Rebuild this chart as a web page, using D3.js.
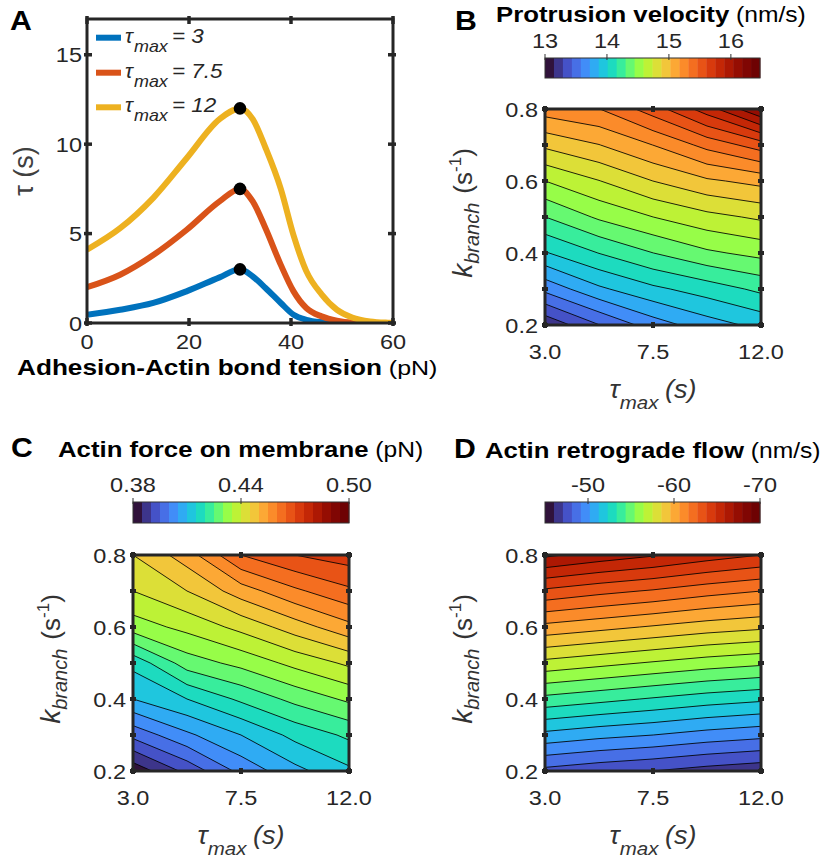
<!DOCTYPE html>
<html>
<head>
<meta charset="utf-8">
<script src="https://cdn.jsdelivr.net/npm/d3@7"></script>
<style>
html,body{margin:0;padding:0;background:#fff;}
svg text{font-family:"Liberation Sans",Arial,Helvetica,sans-serif;}
</style>
</head>
<body>
<svg id="fig" width="822" height="861"></svg>
<script>
// ================= DATA =================
// Panel A: lifetime tau vs adhesion-actin bond tension
const tension     = [0, 6.5, 13, 19.5, 26, 30, 32.5, 35, 38, 40.5, 43, 46, 49, 52, 55.5, 59, 60];
const tauCurve3   = [0.46, 0.74, 1.12, 1.77, 2.55, 3.0, 2.6, 1.96, 1.12, 0.46, 0.18, 0.05, 0.01, 0, 0, 0, 0];
const tauCurve7_5 = [2.0, 2.7, 3.8, 5.2, 6.8, 7.5, 6.8, 5.3, 3.25, 1.77, 0.84, 0.37, 0.13, 0.03, 0.01, 0, 0];
const tauCurve12  = [4.1, 5.3, 7.0, 9.2, 11.4, 12.0, 11.4, 9.8, 7.5, 4.9, 2.9, 1.6, 0.74, 0.31, 0.09, 0.02, 0.01];
const tauMaxValues = [3, 7.5, 12];
const tauMaxLegend = ["3", "7.5", "12"];
const peakTension = 30;
const tensionTicks = [0, 20, 40, 60];
const tauTicks = [0, 5, 10, 15];

// Panels B-D: grids over tau_max (columns) x k_branch (rows)
const tauMaxGrid  = [3, 5.25, 7.5, 9.75, 12];
const kBranchGrid = [0.2, 0.3, 0.4, 0.5, 0.6, 0.7, 0.8];
const tauMaxTicks = [3, 7.5, 12];
const tauMaxTickLabels = ["3.0", "7.5", "12.0"];
const kBranchTicks = [0.2, 0.3, 0.4, 0.5, 0.6, 0.7, 0.8];
const kBranchLabelled = [0.2, 0.4, 0.6, 0.8];

const protrusionVelocity = [ // nm/s
  [13.17, 13.43, 13.65, 13.80, 13.91],
  [13.62, 13.84, 13.98, 14.08, 14.19],
  [14.00, 14.16, 14.30, 14.42, 14.49],
  [14.30, 14.47, 14.59, 14.69, 14.76],
  [14.59, 14.73, 14.88, 15.00, 15.07],
  [14.91, 15.02, 15.17, 15.36, 15.53],
  [15.24, 15.31, 15.53, 15.82, 16.18]
];
const actinForce = [ // pN
  [0.3815, 0.3915, 0.4015, 0.4085, 0.4140],
  [0.3965, 0.4040, 0.4100, 0.4165, 0.4210],
  [0.4100, 0.4150, 0.4210, 0.4265, 0.4310],
  [0.4165, 0.4275, 0.4315, 0.4365, 0.4410],
  [0.4325, 0.4365, 0.4415, 0.4475, 0.4535],
  [0.4400, 0.4450, 0.4525, 0.4590, 0.4640],
  [0.4450, 0.4525, 0.4650, 0.4700, 0.4725]
];
const retrogradeFlow = [ // nm/s
  [-47.81, -47.40, -47.08, -46.67, -46.35],
  [-50.94, -50.52, -50.21, -49.79, -49.48],
  [-54.06, -53.65, -53.23, -52.81, -52.50],
  [-57.19, -56.77, -56.35, -55.94, -55.63],
  [-60.31, -59.90, -59.48, -59.06, -58.75],
  [-63.54, -63.02, -62.60, -62.08, -61.67],
  [-67.08, -66.46, -65.94, -65.31, -64.79]
];
const velocityRange = [13, 16.47];
const velocityTicks = [13, 14, 15, 16];
const velocityTickLabels = ["13", "14", "15", "16"];
const forceRange = [0.38, 0.50];
const forceTicks = [0.38, 0.44, 0.50];
const forceTickLabels = ["0.38", "0.44", "0.50"];
const flowRange = [-45, -70];
const flowTicks = [-50, -60, -70];
const flowTickLabels = ["-50", "-60", "-70"];

// ================= STYLE =================
const seriesColors = ["#0072BD", "#D95319", "#EDB120"];
const bandColors = [
  "#30123b", "#3d358b", "#4552c7", "#476fe6", "#418df8", "#2fabf3",
  "#1fc6de", "#1ddbbf", "#38ed9c", "#66f971", "#97fd48", "#bdf236",
  "#dcdf37", "#f2c63a", "#fca835", "#fb8b2a", "#f46e20", "#e85316",
  "#d83a0d", "#c42706", "#ad1803", "#950d02", "#800603", "#6e0203"
];
const nBands = bandColors.length;

const svg = d3.select("#fig");
const SX = 1.12;
const INK = "#262626";
const LAB = "#333333";

function txt(g, x, y, str, o = {}) {
  const t = g.append("text")
    .attr("transform", `translate(${x},${y}) scale(${o.sx ?? SX},1)`)
    .attr("font-size", o.size ?? 21)
    .attr("font-weight", o.weight ?? "normal")
    .attr("font-style", o.style ?? "normal")
    .attr("text-anchor", o.anchor ?? "start")
    .attr("fill", o.fill ?? INK);
  if (str != null) t.text(str);
  return t;
}

// ---------- Panel A ----------
(function panelA() {
  const g = svg.append("g");
  const box = {l: 87, r: 393, t: 19, b: 323};
  const x = d3.scaleLinear().domain([0, 60]).range([box.l, box.r]);
  const y = d3.scaleLinear().domain([0, 17]).range([box.b, box.t]);

  g.append("clipPath").attr("id", "clipA").append("rect")
    .attr("x", box.l).attr("y", box.t).attr("width", box.r - box.l).attr("height", box.b - box.t);

  const curves = [tauCurve3, tauCurve7_5, tauCurve12];
  const line = d3.line().x((d, i) => x(tension[i])).y(d => y(d)).curve(d3.curveMonotoneX);
  const cg = g.append("g").attr("clip-path", "url(#clipA)");
  curves.forEach((c, i) => {
    cg.append("path").attr("d", line(c)).attr("fill", "none")
      .attr("stroke", seriesColors[i]).attr("stroke-width", 6).attr("stroke-linejoin", "round");
  });
  tauMaxValues.forEach(v => {
    g.append("circle").attr("cx", x(peakTension)).attr("cy", y(v)).attr("r", 6.3).attr("fill", "#000");
  });

  // frame
  g.append("rect").attr("x", box.l).attr("y", box.t).attr("width", box.r - box.l).attr("height", box.b - box.t)
    .attr("fill", "none").attr("stroke", INK).attr("stroke-width", 3);
  tauTicks.forEach(v => {
    [[box.l - 3, box.l + 5], [box.r - 5, box.r + 3]].forEach(([a, b]) =>
      g.append("line").attr("x1", a).attr("x2", b).attr("y1", y(v)).attr("y2", y(v)).attr("stroke", INK).attr("stroke-width", 3.5));
    txt(g, box.l - 5, y(v) + 7.5, String(v), {size: 21, anchor: "end"});
  });
  tensionTicks.forEach(v => {
    [[box.t - 3, box.t + 5], [box.b - 5, box.b + 3]].forEach(([a, b]) =>
      g.append("line").attr("y1", a).attr("y2", b).attr("x1", x(v)).attr("x2", x(v)).attr("stroke", INK).attr("stroke-width", 3.5));
    txt(g, x(v), 348.5, String(v), {size: 21, anchor: "middle"});
  });

  // legend
  const rows = [37.7, 72.7, 107.3];
  rows.forEach((ry, i) => {
    g.append("line").attr("x1", 96).attr("x2", 121).attr("y1", ry).attr("y2", ry)
      .attr("stroke", seriesColors[i]).attr("stroke-width", 6);
    txt(g, 125, ry + 5, "τ", {size: 21, style: "italic", sx: 1});
    txt(g, 134, ry + 14, "max", {size: 16, style: "italic"});
    txt(g, 172, ry + 5, "= " + tauMaxLegend[i], {size: 20, style: "italic"});
  });

  // axis labels
  g.append("text").attr("transform", `translate(33,171) rotate(-90)`)
    .attr("text-anchor", "middle").attr("font-size", 27).attr("fill", "#404040").text("τ (s)");
  const xl = txt(g, 17, 374.5, null, {size: 22, sx: 1.19});
  xl.append("tspan").attr("font-weight", "bold").attr("fill", "#000").text("Adhesion-Actin bond tension");
  xl.append("tspan").attr("font-size", 21).attr("fill", "#000").text(" (pN)");

  txt(svg, 10, 30, "A", {size: 27, weight: "bold", fill: "#000"});
})();

// ---------- Contour panels ----------
function contourPanel(p) {
  const g = svg.append("g");
  const w = 216, h = 216;
  const xs = d3.scaleLinear().domain([tauMaxTicks[0], tauMaxTicks[tauMaxTicks.length - 1]]).range([p.x0, p.x0 + w]);
  const ys = d3.scaleLinear().domain([kBranchGrid[0], kBranchGrid[kBranchGrid.length - 1]]).range([p.y0 + h, p.y0]);
  const band = d3.scaleLinear().domain(p.range).range([0, nBands]);
  const color = d3.scaleOrdinal().domain(d3.range(nBands)).range(bandColors);

  // padded grid (edges replicated) so the plotted region is exactly the data grid
  const nc = tauMaxGrid.length, nr = kBranchGrid.length;
  const nx = nc + 2, ny = nr + 2;
  const grid = [];
  for (let j = 0; j < ny; j++) {
    const row = p.values[Math.max(0, Math.min(nr - 1, j - 1))];
    for (let i = 0; i < nx; i++) grid.push(band(row[Math.max(0, Math.min(nc - 1, i - 1))]));
  }
  const gx = d3.scaleLinear().domain([1.5, nx - 1.5]).range([xs(tauMaxGrid[0]), xs(tauMaxGrid[nc - 1])]);
  const gy = d3.scaleLinear().domain([1.5, ny - 1.5]).range([ys(kBranchGrid[0]), ys(kBranchGrid[nr - 1])]);
  const path = d3.geoPath(d3.geoTransform({point(px, py) { this.stream.point(gx(px), gy(py)); }}));
  const contours = d3.contours().size([nx, ny]).thresholds(d3.range(1, nBands))(grid);

  const cid = "clip" + p.id;
  g.append("clipPath").attr("id", cid).append("rect")
    .attr("x", p.x0).attr("y", p.y0).attr("width", w).attr("height", h);
  const cg = g.append("g").attr("clip-path", `url(#${cid})`);
  cg.append("rect").attr("x", p.x0).attr("y", p.y0).attr("width", w).attr("height", h).attr("fill", color(0));
  contours.forEach(c => cg.append("path").attr("d", path(c)).attr("fill", color(c.value)));
  contours.forEach(c => cg.append("path").attr("d", path(c)).attr("fill", "none")
    .attr("stroke", "#000").attr("stroke-width", 0.85));

  // frame + ticks
  g.append("rect").attr("x", p.x0).attr("y", p.y0).attr("width", w).attr("height", h)
    .attr("fill", "none").attr("stroke", INK).attr("stroke-width", 3);
  kBranchTicks.forEach(v => {
    [[p.x0 - 3, p.x0 + 3], [p.x0 + w - 3, p.x0 + w + 3]].forEach(([a, b]) =>
      g.append("line").attr("x1", a).attr("x2", b).attr("y1", ys(v)).attr("y2", ys(v)).attr("stroke", INK).attr("stroke-width", 4));
  });
  kBranchLabelled.forEach(v => txt(g, p.x0 - 7, ys(v) + 7.5, v.toFixed(1), {size: 21, anchor: "end"}));
  tauMaxTicks.forEach((v, i) => {
    [[p.y0 - 3, p.y0 + 3], [p.y0 + h - 3, p.y0 + h + 3]].forEach(([a, b]) =>
      g.append("line").attr("y1", a).attr("y2", b).attr("x1", xs(v)).attr("x2", xs(v)).attr("stroke", INK).attr("stroke-width", 4));
    txt(g, xs(v), p.y0 + h + 34, tauMaxTickLabels[i], {size: 21, anchor: "middle"});
  });

  // y label
  const yl = g.append("text").attr("transform", `translate(${p.x0 - 73},${p.y0 + h / 2 - 4}) rotate(-90)`)
    .attr("text-anchor", "middle").attr("fill", LAB);
  yl.append("tspan").attr("font-style", "italic").attr("font-size", 28).text("k");
  yl.append("tspan").attr("font-style", "italic").attr("font-size", 20).attr("dy", 7).text("branch");
  yl.append("tspan").attr("font-size", 26).attr("dy", -7).attr("dx", 9).text("(s");
  yl.append("tspan").attr("font-size", 17).attr("dy", -11).text("-1");
  yl.append("tspan").attr("font-size", 26).attr("dy", 11).text(")");

  // x label
  const xl = txt(g, p.x0 + w / 2, p.y0 + h + 73, null, {size: 25, anchor: "middle", style: "italic", fill: LAB, sx: 1.08});
  xl.append("tspan").text("τ");
  xl.append("tspan").attr("font-size", 19).attr("dy", 11).text("max");
  xl.append("tspan").attr("dy", -11).attr("dx", 6).text("(s)");

  // colorbar
  const cb = d3.scaleLinear().domain(p.range).range([p.cb.x0, p.cb.x1]);
  const step = (p.range[1] - p.range[0]) / nBands;
  const cbg = g.append("g");
  d3.range(nBands).forEach(i => {
    const a = cb(p.range[0] + i * step), b = cb(p.range[0] + (i + 1) * step);
    cbg.append("rect").attr("x", Math.min(a, b)).attr("y", p.cb.y0)
      .attr("width", Math.abs(b - a) + 0.4).attr("height", p.cb.y1 - p.cb.y0).attr("fill", color(i));
  });
  cbg.append("rect").attr("x", p.cb.x0).attr("y", p.cb.y0).attr("width", p.cb.x1 - p.cb.x0)
    .attr("height", p.cb.y1 - p.cb.y0).attr("fill", "none").attr("stroke", "#333").attr("stroke-width", 1);
  p.ticks.forEach((v, i) => {
    cbg.append("line").attr("x1", cb(v)).attr("x2", cb(v)).attr("y1", p.cb.y0 - 4).attr("y2", p.cb.y0 + 2)
      .attr("stroke", "#333").attr("stroke-width", 1);
    txt(cbg, cb(v), p.cb.y0 - 10, p.tickLabels[i], {size: 21, anchor: "middle"});
  });

  // title + letter
  const tt = txt(g, p.title.x, p.title.y, null, {size: 23, fill: "#000"});
  tt.append("tspan").attr("font-weight", "bold").text(p.title.bold);
  tt.append("tspan").attr("font-size", 22).text(" " + p.title.unit);
  txt(g, p.letter.x, p.letter.y, p.letter.t, {size: 27, weight: "bold", fill: "#000"});
}

contourPanel({
  id: "B", x0: 545, y0: 109, values: protrusionVelocity, range: velocityRange,
  ticks: velocityTicks, tickLabels: velocityTickLabels,
  cb: {x0: 545, x1: 760, y0: 58, y1: 78},
  title: {x: 496, y: 22, bold: "Protrusion velocity", unit: "(nm/s)"},
  letter: {x: 455, y: 30, t: "B"}
});
contourPanel({
  id: "C", x0: 133, y0: 555, values: actinForce, range: forceRange,
  ticks: forceTicks, tickLabels: forceTickLabels,
  cb: {x0: 133, x1: 349, y0: 502, y1: 523},
  title: {x: 58, y: 457, bold: "Actin force on membrane", unit: "(pN)"},
  letter: {x: 11, y: 457, t: "C"}
});
contourPanel({
  id: "D", x0: 545, y0: 555, values: retrogradeFlow, range: flowRange,
  ticks: flowTicks, tickLabels: flowTickLabels,
  cb: {x0: 545, x1: 760, y0: 502, y1: 523},
  title: {x: 485, y: 458, bold: "Actin retrograde flow", unit: "(nm/s)"},
  letter: {x: 454, y: 458, t: "D"}
});
</script>
</body>
</html>
